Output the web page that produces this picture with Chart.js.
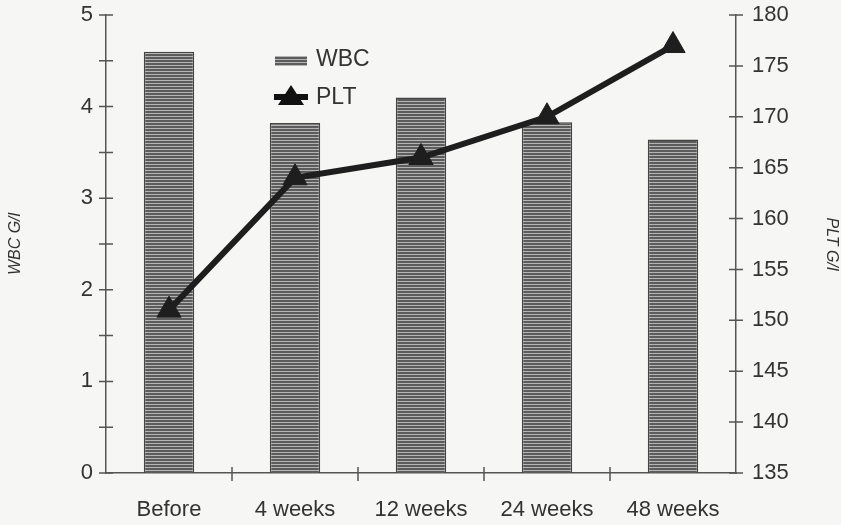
<!DOCTYPE html>
<html>
<head>
<meta charset="utf-8">
<script src="https://cdn.jsdelivr.net/npm/chart.js@4.4.1/dist/chart.umd.min.js"></script>
<style>
  html, body { margin: 0; padding: 0; background: #f6f6f5; }
  #wrap { width: 841px; height: 525px; position: relative; }
</style>
</head>
<body>
<div id="wrap"><canvas id="c" width="841" height="525"></canvas></div>
<script>
// data
var categories = ['Before', '4 weeks', '12 weeks', '24 weeks', '48 weeks'];
var wbcValues = [4.6, 3.82, 4.1, 3.83, 3.64];
var pltValues = [151, 164, 166, 170, 177];
var wbcTicks = [0, 1, 2, 3, 4, 5];
var pltTicks = [135, 140, 145, 150, 155, 160, 165, 170, 175, 180];

var FONT = '"Liberation Sans", Arial, sans-serif';
var INK = '#333';

// horizontal hatching like the scanned bars
function stripePattern() {
    var p = document.createElement('canvas');
    p.width = 4; p.height = 3;
    var g = p.getContext('2d');
    g.fillStyle = '#b4b4b4';
    g.fillRect(0, 0, 4, 3);
    g.fillStyle = '#5c5c5c';
    g.fillRect(0, 0, 4, 2);
    return g.createPattern(p, 'repeat');
}
var ctx = document.getElementById('c').getContext('2d');
var hatch = stripePattern();

function noVertPad(s) { s.paddingTop = 0; s.paddingBottom = 0; }

// ticks that cross the axis line, minor ones on the WBC axis
var crossTicks = {
    id: 'crossTicks',
    afterDraw: function (chart) {
        var c = chart.ctx, a = chart.chartArea;
        c.save();
        c.strokeStyle = '#555';
        c.lineWidth = 1.5;
        c.beginPath();
        for (var v = 0; v <= 5.001; v += 0.5) {
            var y = chart.scales.y.getPixelForValue(v);
            c.moveTo(a.left - 7, y); c.lineTo(a.left + 7, y);
        }
        pltTicks.forEach(function (t) {
            var y = chart.scales.y1.getPixelForValue(t);
            c.moveTo(a.right - 7, y); c.lineTo(a.right + 7, y);
        });
        for (var i = 1; i < categories.length; i++) {
            var x = (chart.scales.x.getPixelForValue(i - 1) + chart.scales.x.getPixelForValue(i)) / 2;
            c.moveTo(x, a.bottom - 6); c.lineTo(x, a.bottom + 8);
        }
        c.stroke();
        c.restore();
    }
};

// legend inside the plot
var innerLegend = {
    id: 'innerLegend',
    afterDraw: function (chart) {
        var c = chart.ctx;
        c.save();
        c.fillStyle = hatch;
        c.fillRect(275, 56, 32, 10);
        c.fillStyle = '#111';
        c.beginPath();
        c.moveTo(291, 85); c.lineTo(304, 105); c.lineTo(278, 105); c.closePath();
        c.fill();
        c.fillRect(274, 94, 34, 6);
        c.fillStyle = INK;
        c.font = '23px ' + FONT;
        c.textBaseline = 'middle';
        c.fillText('WBC', 316, 60);
        c.fillText('PLT', 316, 98);
        c.restore();
    }
};

new Chart(ctx, {
    data: {
        labels: categories,
        datasets: [{
            type: 'line',
            label: 'PLT',
            data: pltValues,
            yAxisID: 'y1',
            borderColor: '#1e1e1e',
            backgroundColor: '#1e1e1e',
            borderWidth: 6,
            pointStyle: 'triangle',
            pointRadius: 14,
            pointBorderWidth: 1,
            order: 0
        }, {
            type: 'bar',
            label: 'WBC',
            data: wbcValues,
            yAxisID: 'y',
            backgroundColor: hatch,
            borderColor: '#444',
            borderWidth: 1.5,
            categoryPercentage: 1,
            barPercentage: 0.4,
            order: 1
        }]
    },
    options: {
        responsive: false,
        animation: false,
        layout: { padding: { top: 15, left: 6, right: 0, bottom: 0 } },
        plugins: { legend: { display: false }, tooltip: { enabled: false } },
        scales: {
            x: {
                offset: true,
                grid: { display: false, drawTicks: false },
                border: { display: true, color: '#555', width: 1.5 },
                ticks: { color: INK, font: { family: FONT, size: 22 }, padding: 24 },
                afterFit: function (s) { s.height = 52; s.paddingLeft = 0; s.paddingRight = 0; }
            },
            y: {
                position: 'left',
                min: 0, max: 5,
                afterBuildTicks: function (s) { s.ticks = wbcTicks.map(function (v) { return { value: v }; }); },
                grid: { display: false, drawTicks: false },
                border: { display: true, color: '#555', width: 1.5 },
                ticks: { color: INK, font: { family: FONT, size: 22 }, padding: 13 },
                title: { display: true, text: 'WBC G/l', color: INK, font: { family: FONT, size: 16, style: 'italic' }, padding: 0 },
                afterFit: function (s) { s.width = 100; noVertPad(s); }
            },
            y1: {
                position: 'right',
                min: 135, max: 180,
                afterBuildTicks: function (s) { s.ticks = pltTicks.map(function (v) { return { value: v }; }); },
                grid: { display: false, drawTicks: false },
                border: { display: true, color: '#555', width: 1.5 },
                ticks: { color: INK, font: { family: FONT, size: 22 }, padding: 16 },
                title: { display: true, text: 'PLT G/l', color: INK, font: { family: FONT, size: 16, style: 'italic' }, padding: 0 },
                afterFit: function (s) { s.width = 105; noVertPad(s); }
            }
        }
    },
    plugins: [crossTicks, innerLegend]
});
</script>
</body>
</html>
